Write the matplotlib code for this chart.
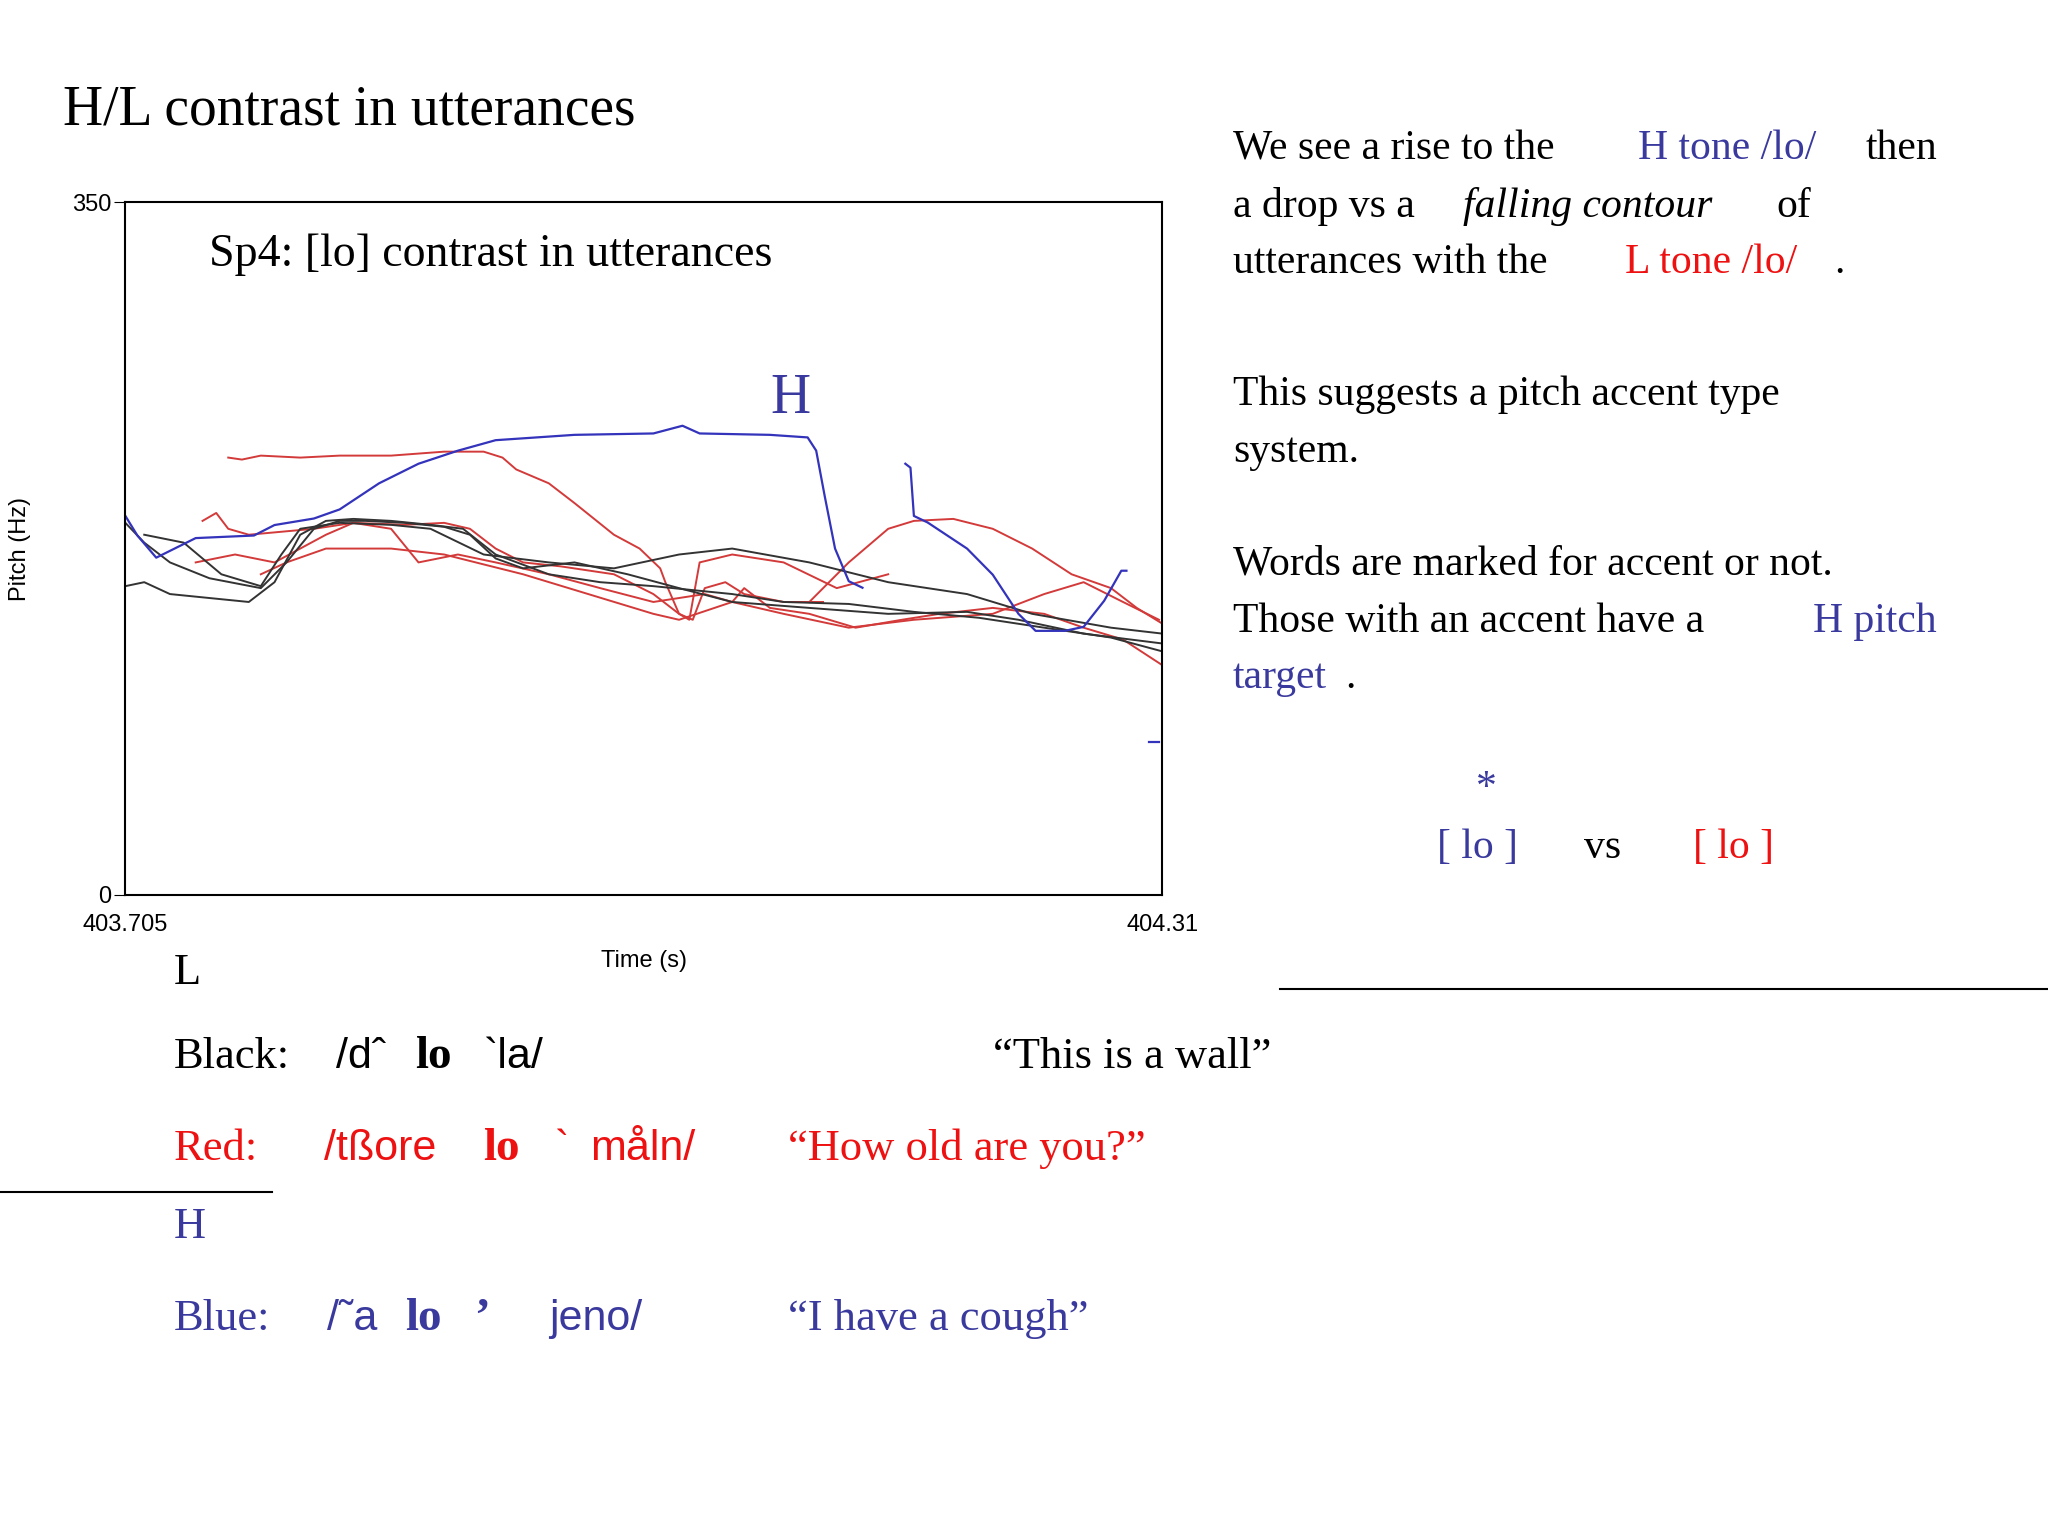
import matplotlib
matplotlib.use("Agg")
import matplotlib.pyplot as plt

blue1_t = [403.705,403.712,403.723,403.746,403.780,403.792,403.815,403.830,403.853,403.876,403.899,403.921,403.967,404.013,404.030,404.040,404.081,404.103,404.108,404.113,404.119,404.127,404.135]
blue1_hz = [191.5,181.6,170.4,180.3,181.6,186.9,190.2,194.8,208.0,217.9,224.5,229.8,232.5,233.2,237.1,233.2,232.5,231.2,224.5,201.4,175.0,158.5,155.2]
blue2_t = [404.160,404.163,404.165,404.173,404.196,404.211,404.226,404.236,404.253,404.264,404.276,404.286,404.289]
blue2_hz = [217.9,215.9,191.5,188.2,175.0,161.8,142.0,133.4,133.4,135.4,148.6,163.8,163.8]
blue3_t = [404.302,404.308]
blue3_hz = [77,77]

red1_t = [403.765,403.773,403.784,403.807,403.830,403.860,403.891,403.914,403.925,403.933,403.952,403.967,403.990,404.005,404.017,404.020,404.028,404.036,404.043,404.055,404.066,404.089,404.112]
red1_hz = [221,220,222,221,222,222,224,224,221,215,208,198,182,175,165,158,142,139,155,158,152,148,148]
red2_t = [403.750,403.758,403.765,403.777,403.815,403.838,403.868,403.891,403.906,403.921,403.937,403.959,403.990,404.013,404.028,404.034,404.040,404.059,404.089,404.120,404.150]
red2_hz = [189,193,185,182,185,188,187,188,185,175,168,166,162,152,142,139,168,172,168,155,162]
red3_t = [404.104,404.127,404.150,404.165,404.188,404.211,404.234,404.257,404.280,404.295,404.310]
red3_hz = [148,168,185,189,190,185,175,162,155,145,137]
red4_t = [403.746,403.769,403.792,403.807,403.822,403.838,403.860,403.876,403.899,403.921,403.952,403.982,404.013,404.043,404.059,404.066,404.081,404.104,404.131,404.158,404.180,404.211,404.241,404.264,404.287,404.310]
red4_hz = [168,172,168,175,182,188,185,168,172,168,162,155,148,152,148,155,145,142,135,139,142,145,142,135,129,116]
red5_t = [403.784,403.799,403.822,403.860,403.891,403.937,403.975,404.013,404.028,404.059,404.089,404.127,404.165,404.211,404.241,404.264,404.287,404.308]
red5_hz = [162,168,175,175,172,162,152,142,139,148,142,135,139,142,152,158,148,139]

blk1_t = [403.705,403.716,403.731,403.754,403.777,403.792,403.807,403.822,403.838,403.860,403.883,403.902,403.921,403.952,403.982,404.013,404.059,404.089,404.127,404.165,404.203,404.241,404.280,404.310]
blk1_hz = [156,158,152,150,148,158,182,189,190,189,187,185,172,162,158,156,152,148,147,143,140,135,130,123]
blk2_t = [403.705,403.716,403.731,403.754,403.784,403.799,403.815,403.830,403.845,403.868,403.891,403.906,403.921,403.937,403.967,403.998,404.028,404.059,404.104,404.150,404.196,404.226,404.264,404.310]
blk2_hz = [188,178,168,160,155,168,185,189,189,188,186,182,170,165,168,162,155,148,145,142,143,139,132,127]
blk3_t = [403.716,403.739,403.761,403.784,403.796,403.807,403.830,403.860,403.883,403.914,403.952,403.990,404.028,404.059,404.104,404.150,404.196,404.234,404.280,404.310]
blk3_hz = [182,178,162,156,172,185,188,187,185,172,168,165,172,175,168,158,152,142,135,132]

x_ticks = [403.705, 404.31]
x_tick_labels = ["403.705", "404.31"]
y_ticks = [0, 350]
y_tick_labels = ["0", "350"]

BLUE = "#3a3a9e"
RED = "#ee1111"
LBLUE = "#3333bb"
LRED = "#d33a3a"
W, H = 1568, 1176
SERIF = "Liberation Serif"
SANS = "Liberation Sans"

fig = plt.figure(figsize=(20.48, 15.36), dpi=100)
fig.patch.set_facecolor("white")
ax = fig.add_axes([96/W, 1-685/H, 794/W, 530/H])
for t, h in [(red1_t, red1_hz), (red2_t, red2_hz), (red3_t, red3_hz), (red4_t, red4_hz), (red5_t, red5_hz)]:
    ax.plot(t, h, color=LRED, lw=1.4)
for t, h in [(blk1_t, blk1_hz), (blk2_t, blk2_hz), (blk3_t, blk3_hz)]:
    ax.plot(t, h, color="#333333", lw=1.4)
for t, h in [(blue1_t, blue1_hz), (blue2_t, blue2_hz), (blue3_t, blue3_hz)]:
    ax.plot(t, h, color=LBLUE, lw=1.6)
ax.set_xlim(403.705, 404.31)
ax.set_ylim(0, 350)
ax.set_xticks(x_ticks)
ax.set_xticklabels(x_tick_labels, family=SANS, fontsize=17)
ax.set_yticks(y_ticks)
ax.set_yticklabels(y_tick_labels, family=SANS, fontsize=17)
ax.tick_params(axis="x", length=0, pad=14)
ax.tick_params(axis="y", length=8, pad=2)
for s in ax.spines.values():
    s.set_linewidth(1.5)

def T(x, y, s, size=30, color="black", family=SERIF, **kw):
    kw.setdefault("va", "baseline")
    fig.text(x/W, 1-y/H, s, fontsize=size, color=color, family=family, **kw)

T(15, 420, "Pitch (Hz)", size=17, family=SANS, rotation=90, ha="center", va="center")
T(493, 740, "Time (s)", size=17, family=SANS, ha="center")

T(48, 95, "H/L contrast in utterances", size=40)
T(160, 204, "Sp4: [lo] contrast in utterances", size=33)
T(590, 316, "H", size=40, color=BLUE)

T(944, 122, "We see a rise to the ", size=30)
T(1254, 122, "H tone /lo/", size=30, color=BLUE)
T(1428, 122, "then", size=30)
T(944, 166, "a drop vs a ", size=30)
T(1120, 166, "falling contour", size=30, style="italic")
T(1360, 166, "of", size=30)
T(944, 209, "utterances with the ", size=30)
T(1244, 209, "L tone /lo/", size=30, color=RED)
T(1404, 209, ".", size=30)
T(944, 310, "This suggests a pitch accent type", size=30)
T(944, 354, "system.", size=30)
T(944, 440, "Words are marked for accent or not.", size=30)
T(944, 484, "Those with an accent have a ", size=30)
T(1388, 484, "H pitch", size=30, color=BLUE)
T(944, 527, "target", size=30, color=BLUE)
T(1030, 527, ".", size=30)

T(1138, 612, "*", size=30, color=BLUE, ha="center")
T(1100, 657, "[ lo ]", size=30, color=BLUE)
T(1213, 657, "vs", size=30)
T(1296, 657, "[ lo ]", size=30, color=RED)

fig.add_artist(plt.Line2D([980/W, 1], [1-757/H]*2, color="black", lw=1.5))
fig.add_artist(plt.Line2D([0, 208/W], [1-913/H]*2, color="black", lw=1.5))

T(133, 753, "L", size=32)
T(133, 818, "Black:", size=32)
T(257, 818, "/dˆ", size=31, family=SANS)
T(318, 818, "lo", size=34, weight="bold")
T(370, 818, "`la/", size=31, family=SANS)
T(760, 818, "“This is a wall”", size=32)

T(133, 888, "Red:", size=32, color=RED)
T(248, 888, "/tßore", size=31, color=RED, family=SANS)
T(370, 888, "lo", size=34, color=RED, weight="bold")
T(425, 888, "`", size=31, color=RED, family=SANS)
T(452, 888, "måln/", size=31, color=RED, family=SANS)
T(603, 888, "“How old are you?”", size=32, color=RED)

T(133, 948, "H", size=32, color=BLUE)
T(133, 1018, "Blue:", size=32, color=BLUE)
T(250, 1018, "/˜a", size=31, color=BLUE, family=SANS)
T(310, 1018, "lo", size=34, color=BLUE, weight="bold")
T(363, 1018, "’", size=34, color=BLUE, weight="bold")
T(420, 1018, "jeno/", size=31, color=BLUE, family=SANS)
T(603, 1018, "“I have a cough”", size=32, color=BLUE)

fig.savefig("out.png", dpi=100)
